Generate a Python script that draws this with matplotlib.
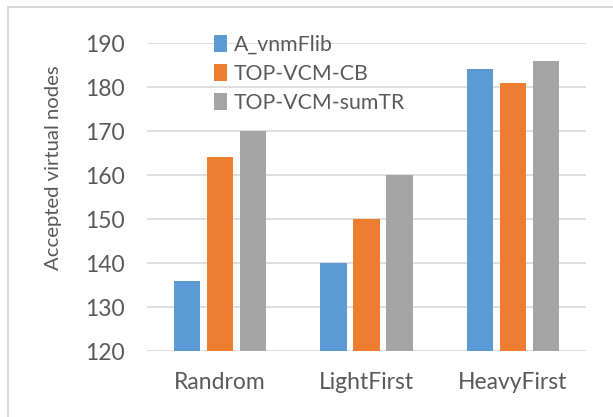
import matplotlib.pyplot as plt
import numpy as np
from matplotlib.patches import Rectangle

categories = ["Randrom", "LightFirst", "HeavyFirst"]
series_names = ["A_vnmFlib", "TOP-VCM-CB", "TOP-VCM-sumTR"]
a_vnmflib = [136, 140, 184]
top_vcm_cb = [164, 150, 181]
top_vcm_sumtr = [170, 160, 186]
y_ticks = [120, 130, 140, 150, 160, 170, 180, 190]

colors = ["#5B9BD5", "#ED7D31", "#A5A5A5"]
text_color = "#595959"

plt.rcParams['font.family'] = ['Lato', 'DejaVu Sans']

fig = plt.figure(figsize=(6.13, 4.17), dpi=100)
W, H = 613, 417
ax = fig.add_axes([147 / W, 1 - 351 / H, (586 - 147) / W, (351 - 43) / H])

# outer chart frame
fig.patches.append(Rectangle((8 / W, -0.1), 1.2, 1 - 7 / H + 0.1,
                             transform=fig.transFigure, fill=False,
                             edgecolor="#D9D9D9", linewidth=1.5))

x = np.arange(len(categories))
width = 0.18
step = 0.226
for i, (vals, name) in enumerate(zip([a_vnmflib, top_vcm_cb, top_vcm_sumtr], series_names)):
    ax.bar(x + (i - 1) * step, np.array(vals) - y_ticks[0], width=width,
           bottom=y_ticks[0], color=colors[i], label=name, zorder=3)

ax.set_ylim(y_ticks[0], y_ticks[-1])
ax.set_xlim(-0.5, len(categories) - 0.5)
ax.set_yticks(y_ticks)
ax.set_xticks(x)
ax.set_xticklabels(categories)
ax.tick_params(axis='both', length=0, labelsize=16.5, colors=text_color)
ax.tick_params(axis='y', pad=16)
ax.tick_params(axis='x', pad=15)
ax.grid(axis='y', color="#D9D9D9", linewidth=1.2, zorder=0)
for s in ax.spines.values():
    s.set_visible(False)
ax.set_ylabel("Accepted virtual nodes", fontsize=14.6, color=text_color,
              va='center', ha='center')
ax.yaxis.set_label_coords((54 - 147) / (586 - 147), (351 - 168) / (351 - 43))

leg = ax.legend(loc='upper left', bbox_to_anchor=(0.133, 1.055), frameon=False,
                fontsize=15.3, handlelength=0.6, handleheight=0.9,
                handletextpad=0.35, labelspacing=0.42, borderaxespad=0)
for t in leg.get_texts():
    t.set_color(text_color)

fig.savefig("out.png", dpi=100, facecolor="white")
